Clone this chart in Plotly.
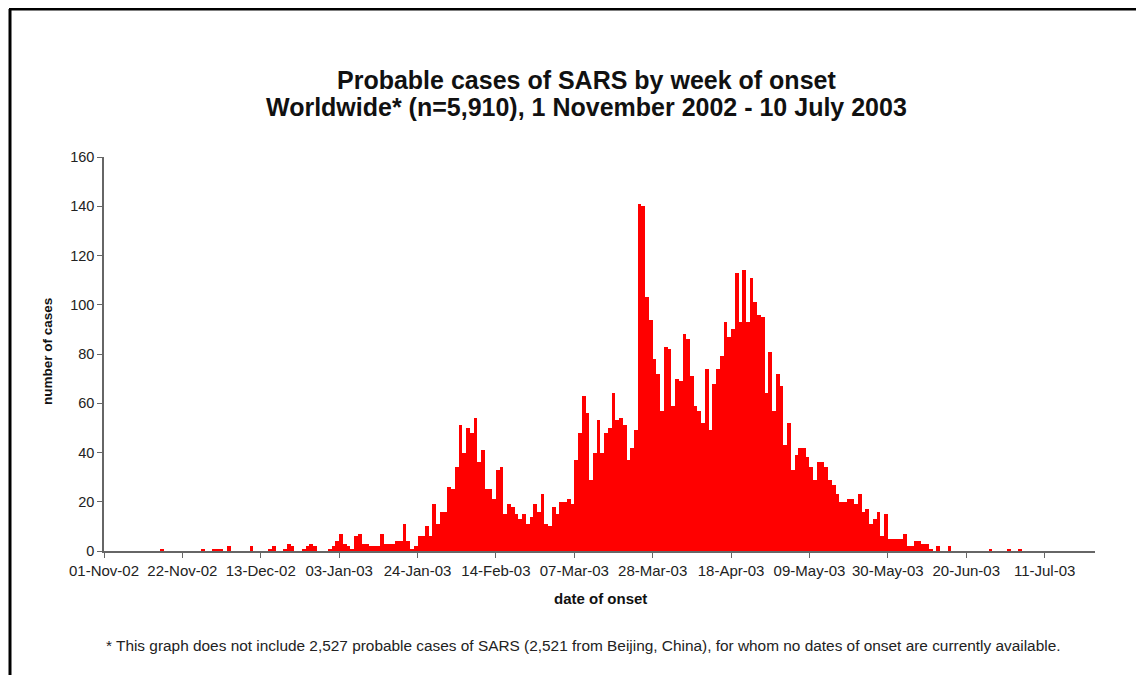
import pandas as pd
import plotly.graph_objects as go

start_date = "2002-11-01"
# daily probable SARS cases by date of onset, from 1 Nov 2002
cases = [
    0, 0, 0, 0, 0, 0, 0, 0, 0, 0, 0, 0, 0, 0, 0, 1, 0, 0, 0, 0, 0,
    0, 0, 0, 0, 0, 1, 0, 0, 1, 1, 1, 0, 2, 0, 0, 0, 0, 0, 2, 0, 0,
    0, 0, 1, 2, 0, 0, 1, 3, 2, 0, 0, 1, 2, 3, 2, 0, 0, 0, 1, 2, 4,
    7, 3, 2, 1, 6, 7, 3, 3, 2, 2, 2, 7, 3, 3, 3, 4, 4, 11, 4, 1, 2,
    6, 6, 10, 6, 19, 11, 16, 16, 26, 25, 34, 51, 40, 50, 48, 54, 36, 41, 25, 25,
    21, 33, 34, 15, 19, 18, 15, 13, 15, 11, 14, 19, 16, 23, 11, 10, 18, 15, 20, 20,
    21, 19, 37, 48, 63, 56, 29, 40, 53, 40, 48, 50, 64, 53, 54, 51, 37, 42, 49, 141,
    140, 103, 94, 78, 72, 57, 83, 82, 59, 70, 69, 88, 86, 71, 59, 57, 52, 74, 49, 68,
    74, 79, 93, 87, 90, 113, 93, 114, 93, 111, 101, 96, 95, 64, 81, 57, 72, 67, 43, 52,
    33, 39, 42, 42, 38, 34, 29, 36, 36, 34, 29, 27, 23, 20, 20, 21, 21, 19, 23, 16,
    17, 11, 13, 16, 6, 15, 5, 5, 5, 5, 7, 2, 2, 4, 4, 3, 3, 1, 0, 2,
    0, 0, 2, 0, 0, 0, 0, 0, 0, 0, 0, 0, 0, 1, 0, 0, 0, 0, 1, 0,
    0, 1, 0, 0, 0, 0,
]
dates = pd.date_range(start_date, periods=len(cases), freq="D")

x_range = ["2002-11-01", "2003-07-24 12:00"]
tick_step_days = 21
y_ticks = [0, 20, 40, 60, 80, 100, 120, 140, 160]

title_lines = ["Probable cases of SARS by week of onset",
               "Worldwide* (n=5,910), 1 November 2002 - 10 July 2003"]
y_title = "number of cases"
x_title = "date of onset"
footnote = ("* This graph does not include 2,527 probable cases of SARS "
            "(2,521 from Beijing, China), for whom no dates of onset are currently available.")

FONT = "Liberation Sans, Arial, sans-serif"

fig = go.Figure(go.Bar(
    x=dates, y=cases,
    xperiod=86400000, xperiodalignment="middle",
    marker=dict(color="#FF0000", line=dict(width=0)),
    hoverinfo="x+y",
))

# page body has an 8px margin, so the figure starts at (8, 8) in the window
OFF = 8
W, H = 1144 - OFF, 675 - OFF
L, R, T, B = 96, 49, 149, 124
pw, ph = W - L - R, H - T - B

def px(xp):
    return (xp - OFF - L) / pw

def py(yp):
    return (H - B - (yp - OFF)) / ph

fig.update_layout(
    width=W, height=H,
    margin=dict(l=L, r=R, t=T, b=B),
    paper_bgcolor="white", plot_bgcolor="white",
    bargap=0, showlegend=False,
    font=dict(family=FONT, color="#222"),
)
fig.update_xaxes(
    type="date", range=x_range,
    tick0="2002-11-01", dtick=tick_step_days * 86400000,
    tickformat="%d-%b-%y",
    ticks="outside", ticklen=5, tickcolor="#666",
    showline=True, linecolor="#666", linewidth=1.5,
    showgrid=False, zeroline=False,
    tickfont=dict(size=15, color="#222"),
)
fig.update_yaxes(
    range=[0, 160], tickvals=y_ticks,
    ticks="outside", ticklen=5, tickcolor="#666",
    showline=True, linecolor="#666", linewidth=1.5,
    showgrid=False, zeroline=False,
    tickfont=dict(size=14.5, color="#222"),
)

ann = [
    dict(text="<b>%s</b>" % title_lines[0], x=px(586), y=py(80), font=dict(size=25, color="#111")),
    dict(text="<b>%s</b>" % title_lines[1], x=px(586), y=py(107), font=dict(size=25, color="#111")),
    dict(text="<b>%s</b>" % y_title, x=px(47), y=py(352), textangle=-90, font=dict(size=13.5, color="#111")),
    dict(text="<b>%s</b>" % x_title, x=px(600), y=py(598), font=dict(size=15, color="#111")),
    dict(text=footnote, x=px(583), y=py(645), font=dict(size=15.4, color="#222")),
]
for a in ann:
    a.update(xref="paper", yref="paper", showarrow=False, xanchor="center", yanchor="middle")
fig.update_layout(annotations=ann)

# frame around the slide
fig.add_shape(type="line", xref="paper", yref="paper",
              x0=px(10), y0=py(675), x1=px(10), y1=py(9),
              line=dict(color="black", width=3))
fig.add_shape(type="line", xref="paper", yref="paper",
              x0=px(9), y0=py(9), x1=px(1144), y1=py(9),
              line=dict(color="black", width=3))

fig.write_html("out.html")
